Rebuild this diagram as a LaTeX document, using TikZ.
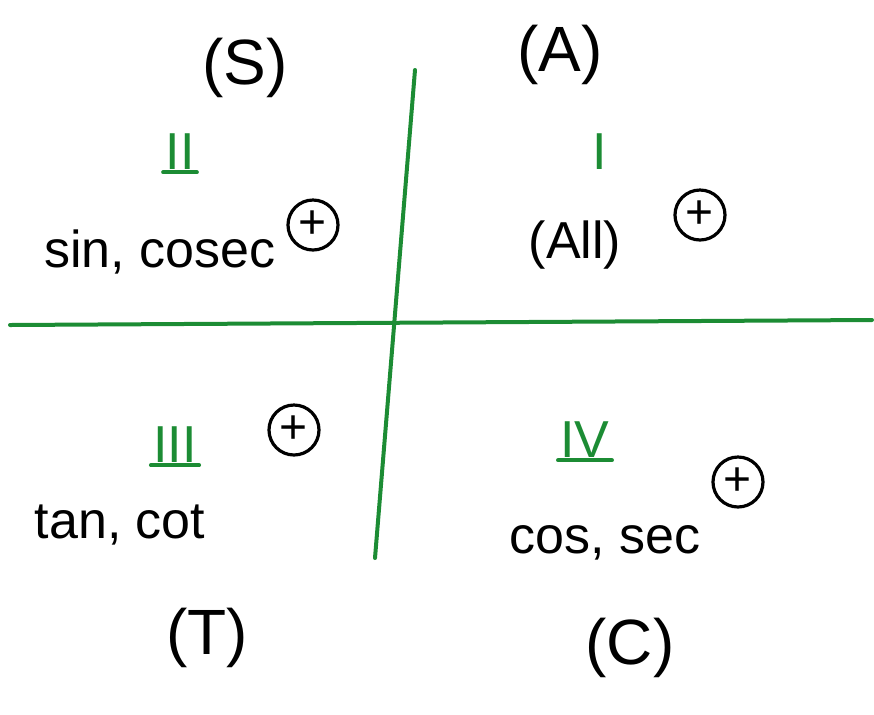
\documentclass[tikz,border=0pt]{standalone}
\usepackage{fontspec}
\setmainfont{Liberation Sans}
\usetikzlibrary{positioning}
\definecolor{axisgreen}{RGB}{28,140,52}
\tikzset{
  axisline/.style={draw=axisgreen, line width=2pt, line cap=round},
  quadnum/.style={text=axisgreen, font=\fontsize{26}{28}\selectfont, inner sep=1pt},
  numbar/.style={draw=axisgreen, line width=2pt, line cap=round},
  fnlabel/.style={font=\fontsize{26}{28}\selectfont, inner sep=1pt},
  letterlabel/.style={font=\fontsize{32}{36}\selectfont, inner sep=1pt},
  plussign/.style={circle, draw, line width=1.6pt, minimum size=25pt, inner sep=0pt,
    font=\fontsize{24}{24}\selectfont}
}
\begin{document}
\begin{tikzpicture}[x=0.5pt, y=-0.5pt]
\useasboundingbox (0,0) rectangle (874,714);
% axes
\coordinate (west) at (10,325);
\coordinate (east) at (872,320);
\coordinate (north) at (415,70);
\coordinate (south) at (375,558);
\draw[axisline] (west) -- (east);
\draw[axisline] (north) -- (south);

% quadrant II
\node[letterlabel] (S) at (245,68) {(S)};
\node[quadnum] (q2) at (180,152) {II};
\draw[numbar] (q2.south west) -- (q2.south east);
\node[fnlabel] (sincosec) at (160,252) {sin, cosec};
\node[plussign] (plus2) at (313,225) {+};

% quadrant I
\node[letterlabel] (A) at (560,55) {(A)};
\node[quadnum] (q1) at (600,152) {I};
\node[fnlabel] (all) at (575,245) {(All)};
\node[plussign] (plus1) at (700,215) {+};

% quadrant III
\node[quadnum] (q3) at (175,445) {III};
\draw[numbar] (q3.south west) -- (q3.south east);
\node[fnlabel] (tancot) at (120,525) {tan, cot};
\node[plussign] (plus3) at (294,430) {+};
\node[letterlabel] (T) at (207,638) {(T)};

% quadrant IV
\node[quadnum] (q4) at (585,440) {IV};
\draw[numbar] (q4.south west) -- (q4.south east);
\node[fnlabel] (cossec) at (605,543) {cos, sec};
\node[plussign] (plus4) at (738,482) {+};
\node[letterlabel] (C) at (630,648) {(C)};
\end{tikzpicture}
\end{document}
